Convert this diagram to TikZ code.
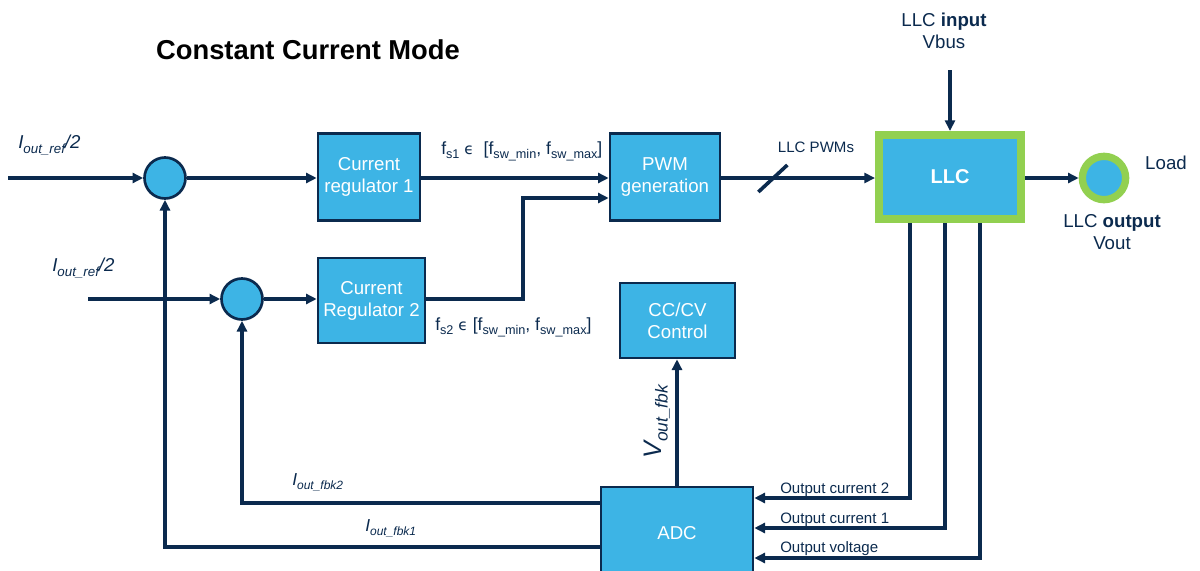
\documentclass[tikz,border=0pt]{standalone}
\usepackage{fontspec}
\setmainfont{Liberation Sans}
\newfontfamily\dejavu{DejaVu Sans}
\usetikzlibrary{arrows.meta,calc}
\definecolor{navy}{HTML}{0B2A4E}
\definecolor{fillblue}{HTML}{3DB4E5}
\definecolor{ringgreen}{HTML}{92D050}
% lowered subscript text in a given size
\newcommand{\lowtext}[2][9]{\raisebox{-0.45ex}{\fontsize{#1}{#1}\selectfont #2}}
\begin{document}
\begin{tikzpicture}[x=0.75pt,y=-0.75pt,
  wire/.style={draw=navy, line width=2.7pt},
  arr/.style={wire, -{Triangle[length=8pt,width=7.5pt]}},
  blk/.style={draw=navy, line width=2pt, fill=fillblue, text=white, align=center,
    inner sep=0pt, font=\fontsize{14}{16.5}\selectfont},
  sumc/.style={circle, draw=navy, line width=2pt, fill=fillblue, minimum size=30.75pt, inner sep=0pt},
  lbl/.style={text=navy, inner sep=0pt, font=\fontsize{14}{16.5}\selectfont},
  small/.style={text=navy, inner sep=0pt, font=\fontsize{11.3}{13.5}\selectfont}
]
\useasboundingbox (0,0) rectangle (1200,571);
\clip (0,0) rectangle (1200,571);

% title
\node[inner sep=0pt, font=\bfseries\fontsize{20.5}{24}\selectfont] (title) at (308,50) {Constant Current Mode};

% summing junctions
\node[sumc] (sum1) at (165,178) {};
\node[sumc] (sum2) at (242,299) {};

% blocks
\node[blk, minimum width=76.5pt, minimum height=65.25pt] (reg1) at (369,177) {Current\\regulator 1};
\node[blk, minimum width=80.25pt, minimum height=63.75pt] (reg2) at (371.5,300.5) {Current\\Regulator 2};
\node[blk, minimum width=82.5pt, minimum height=65.25pt] (pwm) at (665,177) {PWM\\generation};
\node[blk, minimum width=86.25pt, minimum height=56.25pt] (ccv) at (677.5,320.5) {CC/CV\\Control};
\node[blk, minimum width=114pt, minimum height=69.75pt] (adc) at (677,533.5) {ADC};
\node[blk, draw=ringgreen, line width=6pt, minimum width=106.5pt, minimum height=63pt,
      font=\bfseries\fontsize{15}{18}\selectfont] (llc) at (950,177) {LLC};
\node[circle, draw=ringgreen, line width=5.5pt, fill=fillblue, minimum size=32.5pt, inner sep=0pt] (load) at (1104,178) {};

% free ends and bend points
\coordinate (in1) at (8,178);
\coordinate (in2) at (88,299);
\coordinate (vin) at (950,70);
\coordinate (j2) at (523,198);
\coordinate (t1) at (910,0);
\coordinate (t2) at (945,0);
\coordinate (t3) at (980,0);
\coordinate (r1) at (0,498);
\coordinate (r2) at (0,528);
\coordinate (r3) at (0,558);
\coordinate (f2) at (0,503);
\coordinate (f1) at (0,547);

% forward path
\draw[arr] (in1) -- (sum1.west);
\draw[arr] (in2) -- (sum2.west);
\draw[arr] (sum1.east) -- (sum1 -| reg1.west);
\draw[arr] (sum2.east) -- (sum2 -| reg2.west);
\draw[arr] (reg1.east |- sum1) -- (pwm.west |- sum1);
\draw[arr] (reg2.east |- sum2) -| (j2) -- (pwm.west |- j2);
\draw[arr] (pwm.east |- sum1) -- (llc.west |- sum1);
\draw[wire] ($(pwm.east |- sum1)+(37,14)$) -- ++(29,-27);
\draw[arr] (vin) -- (llc.north);
\draw[arr] (llc.east |- sum1) -- (load.west);

% measurements into the ADC
\draw[arr] (llc.south -| t1) |- (adc.east |- r1);
\draw[arr] (llc.south -| t2) |- (adc.east |- r2);
\draw[arr] (llc.south -| t3) |- (adc.east |- r3);
\draw[arr] (adc.north) -- (adc.north |- ccv.south);

% feedback to the summing junctions
\draw[arr] (adc.west |- f2) -| (sum2.south);
\draw[arr] (adc.west |- f1) -| (sum1.south);

% labels
\node[lbl, anchor=west, font=\itshape\fontsize{14}{16.5}\selectfont] (ref1) at (18,145) {I\lowtext[10]{out\_ref}/2};
\node[lbl, anchor=west, font=\itshape\fontsize{14}{16.5}\selectfont] (ref2) at (52,268) {I\lowtext[10]{out\_ref}/2};
\node[lbl, anchor=west, font=\fontsize{13.2}{16}\selectfont] (fs1) at (441,151) {f\lowtext[9.5]{s1} {\dejavu\fontsize{11.5}{14}\selectfont ϵ}\ \ [f\lowtext[9.5]{sw\_min}, f\lowtext[9.5]{sw\_max}]};
\node[lbl, anchor=west, font=\fontsize{13.2}{16}\selectfont] (fs2) at (435,327) {f\lowtext[9.5]{s2} {\dejavu\fontsize{11.5}{14}\selectfont ϵ} [f\lowtext[9.5]{sw\_min}, f\lowtext[9.5]{sw\_max}]};
\node[small] (pwms) at (816,147) {LLC PWMs};
\node[lbl, align=center] (vbus) at (944,31) {LLC \textbf{input}\\Vbus};
\node[lbl] (loadl) at (1166,163) {Load};
\node[lbl, align=center] (vout) at (1112,232) {LLC \textbf{output}\\Vout};
\node[small, anchor=west] (oc2) at (780,490) {Output current 2};
\node[small, anchor=west] (oc1) at (780,520) {Output current 1};
\node[small, anchor=west] (ov) at (780,549) {Output voltage};
\node[lbl, anchor=west, font=\itshape\fontsize{13}{15}\selectfont] (fb2) at (292,482) {I\lowtext[9]{out\_fbk2}};
\node[lbl, anchor=west, font=\itshape\fontsize{13}{15}\selectfont] (fb1) at (365,528) {I\lowtext[9]{out\_fbk1}};
\node[lbl, rotate=90, font=\itshape\fontsize{19}{22}\selectfont] (vfb) at (657,422) {V\lowtext[13]{out\_fbk}};
\end{tikzpicture}
\end{document}
